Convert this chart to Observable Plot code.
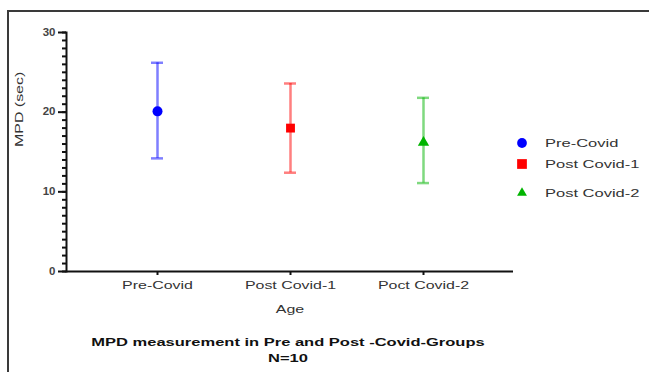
<!DOCTYPE html>
<html>
<head>
<meta charset="utf-8">
<script src="https://cdn.jsdelivr.net/npm/d3@7"></script>
<script src="https://cdn.jsdelivr.net/npm/@observablehq/plot@0.6"></script>
<style>
  html, body { margin: 0; padding: 0; background: #fff; }
  #wrap { position: relative; width: 649px; height: 372px; overflow: hidden; font-family: "Liberation Sans", Arial, sans-serif; }
  #border { position: absolute; left: 7px; top: 10px; width: 700px; height: 400px; border-top: 2px solid #3a3a3a; border-left: 2px solid #3a3a3a; box-sizing: border-box; }
  #legend { position: absolute; left: 514px; top: 135px; font-size: 11px; color: #333; }
  .row { position: absolute; left: 0; white-space: nowrap; display: flex; align-items: center; height: 16px; }
  .row svg { margin-right: 15px; flex: none; }
  .row span { display: inline-block; transform: scaleX(1.5); transform-origin: left center; }
  #caption { position: absolute; left: 0; width: 576px; top: 334px; text-align: center; font-weight: bold; font-size: 11px; line-height: 16px; color: #111; transform: scaleX(1.5); transform-origin: 288px 0; }
  #chart { position: absolute; left: 0; top: 0; }
</style>
</head>
<body>
<div id="wrap">
  <div id="chart"></div>
  <div id="border"></div>
  <div id="legend"></div>
  <div id="caption">MPD measurement in Pre and Post -Covid-Groups<br>N=10</div>
</div>
<script>
const groups = ["Pre-Covid", "Post Covid-1", "Poct Covid-2"];
const legendLabels = ["Pre-Covid", "Post Covid-1", "Post Covid-2"];
const means = [20.1, 18.0, 16.2];
const upper = [26.2, 23.6, 21.8];
const lower = [14.2, 12.4, 11.1];
const colors = ["#0000ff", "#ff0000", "#00b400"];
const symbols = ["circle", "square", "triangle"];
const yTicks = [0, 10, 20, 30];

const data = groups.map((g, i) => ({g, mean: means[i], hi: upper[i], lo: lower[i], color: colors[i], symbol: symbols[i], label: legendLabels[i]}));

const markerR = {circle: 5, square: 5, triangle: 4.2};

const chart = Plot.plot({
  width: 649,
  height: 372,
  marginLeft: 66,
  marginRight: 136,
  marginTop: 32,
  marginBottom: 101,
  style: {fontFamily: "Liberation Sans, Arial, sans-serif", background: "transparent"},
  x: {type: "band", domain: groups, paddingInner: 0.91, paddingOuter: 0.63, label: null},
  y: {domain: [0, 30], label: null},
  r: {type: "identity"},
  marks: [
    Plot.axisY({ticks: d3.range(0, 31, 1), tickSize: 4, text: null, strokeWidth: 2, stroke: "#111"}),
    Plot.axisY({ticks: yTicks, tickSize: 8, tickPadding: 3, strokeWidth: 2, stroke: "#111", fontSize: 10, fontWeight: "bold", fill: "#444"}),
    Plot.axisX({tickSize: 4, strokeWidth: 2, stroke: "#111", tickPadding: 6, fontSize: 11, fill: "#333"}),
    Plot.text(["MPD (sec)"], {frameAnchor: "left", rotate: -90, dx: -47, dy: -5, fontSize: 11, fill: "#333"}),
    Plot.text(["Age"], {frameAnchor: "bottom", dy: 41, fontSize: 11, fill: "#333"}),
    Plot.frame({anchor: "left", stroke: "#111", strokeWidth: 2}),
    Plot.ruleY([0], {stroke: "#111", strokeWidth: 2}),
    Plot.ruleX(data, {x: "g", y1: "lo", y2: "hi", stroke: "color", strokeOpacity: 0.5, strokeWidth: 2.5}),
    Plot.tickY(data, {x: "g", y: "hi", stroke: "color", strokeOpacity: 0.5, strokeWidth: 2.5}),
    Plot.tickY(data, {x: "g", y: "lo", stroke: "color", strokeOpacity: 0.5, strokeWidth: 2.5}),
    Plot.dot(data, {x: "g", y: "mean", fill: "color", symbol: "symbol", r: d => markerR[d.symbol], stroke: "none"})
  ]
});
document.getElementById("chart").appendChild(chart);

// widen text horizontally (reference text is stretched along its reading direction)
d3.select(chart).selectAll("text").each(function() {
  const t = d3.select(this);
  const parent = this.parentNode;
  const label = parent && parent.getAttribute ? (parent.getAttribute("aria-label") || "") : "";
  const s = label.includes("y-axis tick label") ? 1.15 : 1.45;
  const tr = t.attr("transform");
  if (tr) t.attr("transform", tr + ` scale(${s},1)`);
});

// legend
const legend = d3.select("#legend");
const rowTops = [0, 21, 50];
const sym = {circle: d3.symbolCircle, square: d3.symbolSquare, triangle: d3.symbolTriangle};
const sizes = {circle: 75, square: 95, triangle: 42};
data.forEach((d, i) => {
  const row = legend.append("div").attr("class", "row").style("top", rowTops[i] + "px");
  const s = row.append("svg").attr("width", 16).attr("height", 16);
  s.append("path").attr("transform", "translate(8,8)")
    .attr("d", d3.symbol(sym[d.symbol], sizes[d.symbol])())
    .attr("fill", d.color);
  row.append("span").text(d.label);
});
</script>
</body>
</html>
